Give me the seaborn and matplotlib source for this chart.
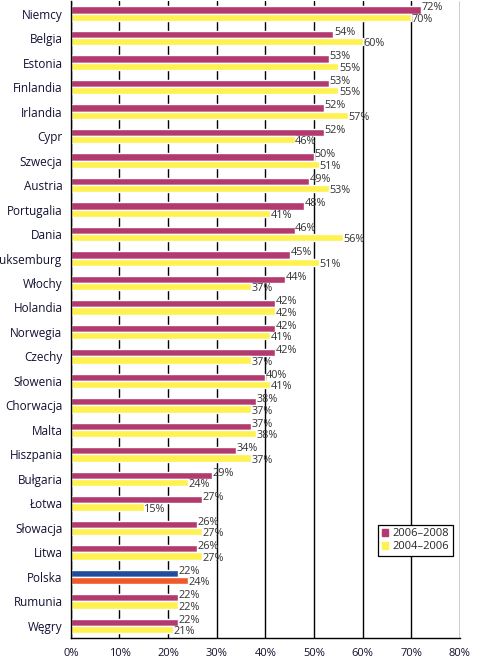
import matplotlib
matplotlib.use('Agg')
import matplotlib.pyplot as plt
import numpy as np
import pandas as pd
import seaborn as sns
from matplotlib.patches import Patch

# data
countries = ['Niemcy', 'Belgia', 'Estonia', 'Finlandia', 'Irlandia', 'Cypr',
             'Szwecja', 'Austria', 'Portugalia', 'Dania', 'Luksemburg', 'Włochy',
             'Holandia', 'Norwegia', 'Czechy', 'Słowenia', 'Chorwacja', 'Malta',
             'Hiszpania', 'Bułgaria', 'Łotwa', 'Słowacja', 'Litwa', 'Polska',
             'Rumunia', 'Węgry']
v_2006_2008 = [72, 54, 53, 53, 52, 52, 50, 49, 48, 46, 45, 44, 42, 42, 42, 40,
               38, 37, 34, 29, 27, 26, 26, 22, 22, 22]
v_2004_2006 = [70, 60, 55, 55, 57, 46, 51, 53, 41, 56, 51, 37, 42, 41, 37, 41,
               37, 38, 37, 24, 15, 27, 27, 24, 22, 21]
periods = ['2006–2008', '2004–2006']

df = pd.DataFrame({
    'country': countries * 2,
    'period': [periods[0]] * len(countries) + [periods[1]] * len(countries),
    'value': v_2006_2008 + v_2004_2006,
})

sns.set_style('white')
plt.rcParams['font.family'] = ['Open Sans', 'DejaVu Sans']

magenta = '#B33A6E'
yellow = '#FFF150'

fig = plt.figure(figsize=(4.82, 6.62), dpi=100)
ax = fig.add_axes([0.147, 0.036, 0.807, 0.962])

sns.barplot(data=df, y='country', x='value', hue='period', order=countries,
            hue_order=periods, palette=[magenta, yellow], orient='h',
            width=0.6, saturation=1, legend=False, ax=ax)

# Polska highlighted
pol = countries.index('Polska')
ax.containers[0][pol].set_facecolor('#1F4C9C')
ax.containers[1][pol].set_facecolor('#F05A28')

# value labels: upper bar label nudged up, lower bar label nudged down
for cont, dy in zip(ax.containers, [1.6, -1.6]):
    for bar, v in zip(cont, cont.datavalues):
        yc = bar.get_y() + bar.get_height() / 2
        ax.annotate(f'{int(v)}%', (bar.get_width(), yc), xytext=(0.5, dy),
                    textcoords='offset points', ha='left', va='center',
                    fontsize=7.8, color='#333333')

ax.set_xlim(0, 80)
ax.set_ylim(len(countries) - 0.5, -0.5)
ax.set_xticks(np.arange(0, 81, 10))
ax.set_xticklabels([f'{t}%' for t in range(0, 81, 10)], fontsize=8)
ax.set_yticks(range(len(countries)))
ax.set_yticklabels(countries, fontsize=8.5, color='#111133')
ax.set_yticks(np.arange(-0.5, len(countries), 1), minor=True)
ax.tick_params(axis='y', which='major', length=0, pad=6)
ax.tick_params(axis='y', which='minor', length=3, width=0.8, direction='out', color='black')
ax.tick_params(axis='x', length=0, pad=7, colors='#111133')
ax.set_xlabel('')
ax.set_ylabel('')

ax.grid(axis='x', color='black', linewidth=1)
ax.set_axisbelow(True)
for s in ['top', 'right']:
    ax.spines[s].set_visible(False)
for s in ['left', 'bottom']:
    ax.spines[s].set_color('black')
    ax.spines[s].set_linewidth(1)

handles = [Patch(color=magenta), Patch(color=yellow)]
leg = ax.legend(handles, periods, loc='upper left', bbox_to_anchor=(0.776, 0.187),
                fontsize=8, frameon=True, fancybox=False, edgecolor='black',
                handlelength=0.6, handleheight=0.6, handletextpad=0.4,
                borderpad=0.3, labelspacing=0.2, framealpha=1)
leg.get_frame().set_linewidth(0.9)

fig.savefig('out.png', dpi=100)
